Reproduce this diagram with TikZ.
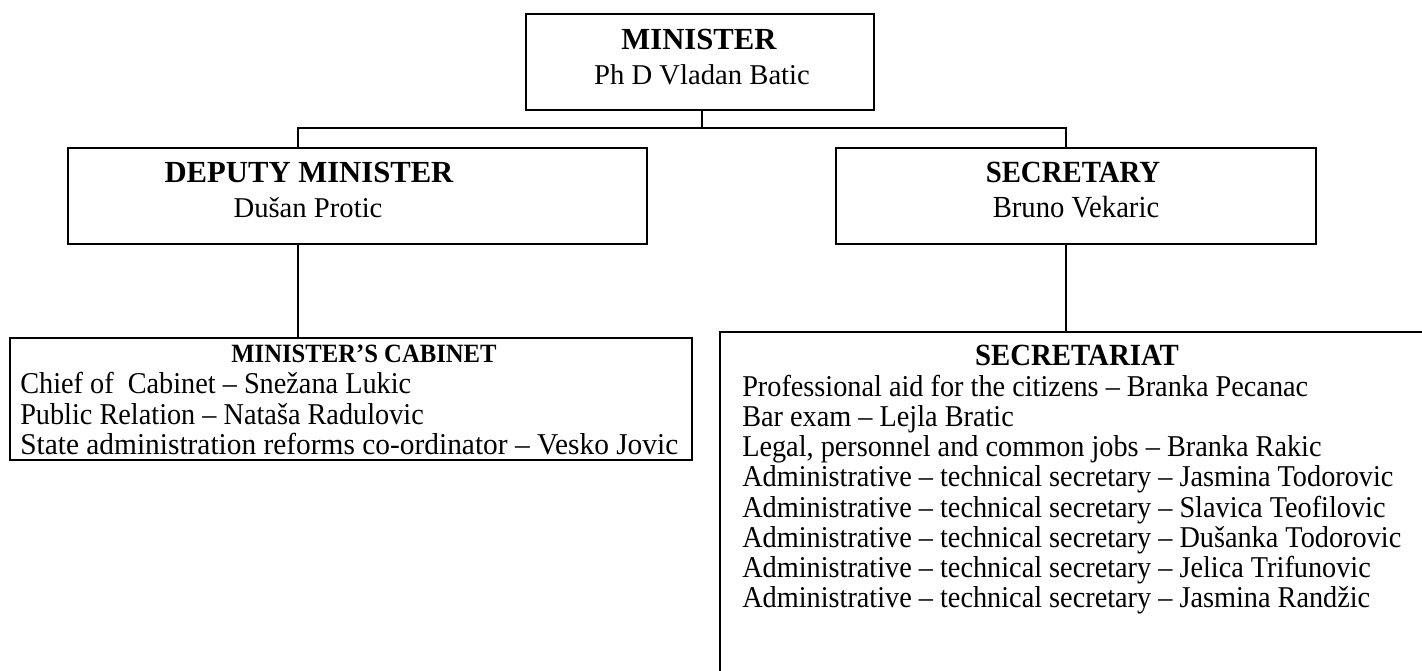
\documentclass[tikz,border=0pt]{standalone}
\usepackage{fontspec}
\setmainfont{Liberation Serif}
\usetikzlibrary{fit}
\newcommand\tallt[1]{\scalebox{1}[1.07]{#1}}
\begin{document}
\begin{tikzpicture}[x=0.75pt,y=-0.75pt,
  box/.style={draw,line width=1.5pt,inner sep=0pt},
  conn/.style={draw,line width=1.5pt},
  ttl/.style={font=\fontsize{23}{27}\selectfont\bfseries,anchor=base,inner sep=0pt},
  ttlsm/.style={font=\fontsize{18.5}{22}\selectfont\bfseries,anchor=base,inner sep=0pt},
  ttlmd/.style={font=\fontsize{21.6}{26}\selectfont\bfseries,anchor=base,inner sep=0pt},
  nm/.style={font=\fontsize{21.5}{26}\selectfont,anchor=base,inner sep=0pt},
  row/.style={font=\fontsize{21.2}{25}\selectfont,anchor=base west,inner sep=0pt}]
\path[use as bounding box] (0,0) rectangle (1422,671);
\clip (0,0) rectangle (1422,671);
\fill[white] (0,0) rectangle (1422,671);

% boxes
\node[box,fit={(526,14) (874,110)}] (min) {};
\node[box,fit={(68,148) (647,244)}] (dep) {};
\node[box,fit={(836,148) (1316,244)}] (sec) {};
\node[box,fit={(10,338) (692,460)}] (cab) {};
\node[box,fit={(720,332) (1450,700)}] (sect) {};

% texts
\node[ttl] (minT) at (699,49) {MINISTER};
\node[nm] (minN) at (702,84) {Ph D Vladan Batic};
\node[ttl] (depT) at (309,182) {DEPUTY MINISTER};
\node[nm] (depN) at (308,217) {Dušan Protic};
\node[ttlmd] (secT) at (1073,182) {\tallt{SECRETARY}};
\node[nm] (secN) at (1076,217) {\tallt{Bruno Vekaric}};

\node[ttlsm] (cabT) at (364,362) {\tallt{MINISTER’S CABINET}};
\node[row] (c1) at (20,393) {\tallt{Chief of \ Cabinet – Snežana Lukic}};
\node[row] (c2) at (20,424) {\tallt{Public Relation – Nataša Radulovic}};
\node[row] (c3) at (20,454) {\scalebox{1.04}[1.07]{State administration reforms co-ordinator – Vesko Jovic}};

\node[ttlmd] (sectT) at (1077,365) {\tallt{SECRETARIAT}};
\node[row] (s1) at (742,396) {\tallt{Professional aid for the citizens – Branka Pecanac}};
\node[row] (s2) at (742,426) {\tallt{Bar exam – Lejla Bratic}};
\node[row] (s3) at (742,456) {\tallt{Legal, personnel and common jobs – Branka Rakic}};
\node[row] (s4) at (742,486) {\tallt{Administrative – technical secretary – Jasmina Todorovic}};
\node[row] (s5) at (742,517) {\tallt{Administrative – technical secretary – Slavica Teofilovic}};
\node[row] (s6) at (742,547) {\tallt{Administrative – technical secretary – Dušanka Todorovic}};
\node[row] (s7) at (742,577) {\tallt{Administrative – technical secretary – Jelica Trifunovic}};
\node[row] (s8) at (742,607) {\tallt{Administrative – technical secretary – Jasmina Randžic}};

% connectors
\coordinate (mst) at (702,128);
\coordinate (jl) at (298,128);
\coordinate (jr) at (1066,128);
\draw[conn] (mst |- min.south) -- (mst);
\draw[conn] (jl |- dep.north) -- (jl) -- (jr) -- (jr |- sec.north);
\draw[conn] (jl |- dep.south) -- (jl |- cab.north);
\draw[conn] (jr |- sec.south) -- (jr |- sect.north);
\end{tikzpicture}
\end{document}
